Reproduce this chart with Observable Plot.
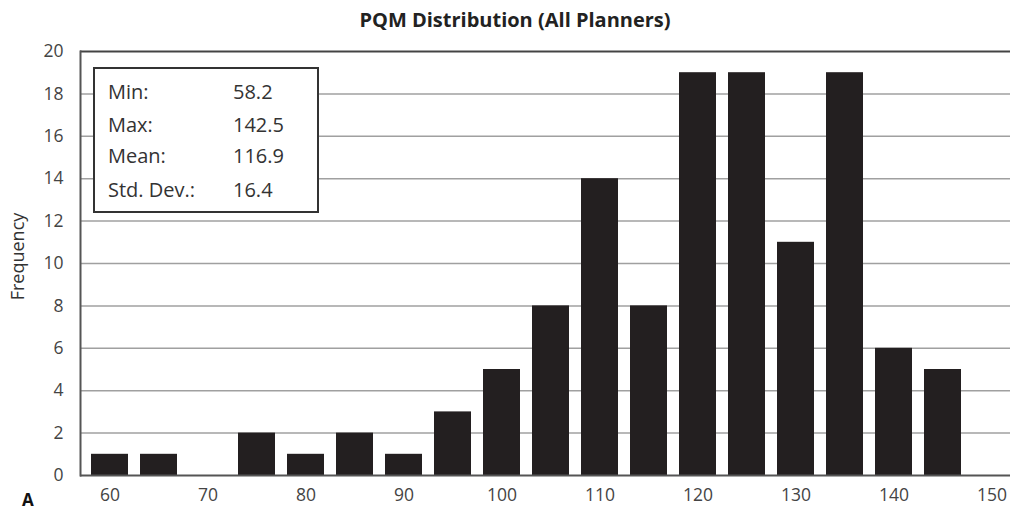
<!DOCTYPE html>
<html><head><meta charset="utf-8">
<script src="https://cdn.jsdelivr.net/npm/d3@7"></script>
<script src="https://cdn.jsdelivr.net/npm/@observablehq/plot@0.6"></script>
<style>
body{margin:0;overflow:hidden;background:#fff;font-family:"Open Sans",sans-serif;}
#wrap{position:relative;width:1030px;height:514px;overflow:hidden;}
#title{height:30px;box-sizing:border-box;padding-top:9px;text-align:center;font-weight:bold;font-size:20px;line-height:21px;color:#222;white-space:nowrap;}
#stats{position:absolute;left:93px;top:67px;width:226px;height:146px;box-sizing:border-box;border:2.5px solid #333;background:#fff;font-size:20px;color:#333;}
#stats .row{position:absolute;left:13px;height:20px;line-height:20px;}
#stats .lab{position:absolute;left:0;white-space:nowrap;}
#stats .val{position:absolute;left:125px;white-space:nowrap;}
#panel{position:absolute;left:22px;top:491px;font-weight:bold;font-size:17px;line-height:17px;color:#111;}
#chart{position:absolute;left:0;top:30px;}
#chart svg text{font-family:"Open Sans",sans-serif !important;}
#chart svg g[aria-label="x-axis tick label"] text, #chart svg g[aria-label="y-axis tick label"] text{font-size:17.5px !important;}
</style></head><body>
<div id="wrap">
  <div id="title"></div>
  <div id="chart"></div>
  <div id="stats"></div>
  <div id="panel"></div>
</div>
<script>
const titleText = "PQM Distribution (All Planners)";
const yLabel = "Frequency";
const panelLabel = "A";
const bins = [60, 65, 70, 75, 80, 85, 90, 95, 100, 105, 110, 115, 120, 125, 130, 135, 140, 145, 150];
const freq = [1, 1, 0, 2, 1, 2, 1, 3, 5, 8, 14, 8, 19, 19, 11, 19, 6, 5, 0];
const xTicks = [60, 70, 80, 90, 100, 110, 120, 130, 140, 150];
const yTicks = [0, 2, 4, 6, 8, 10, 12, 14, 16, 18, 20];
const statLabels = ["Min:", "Max:", "Mean:", "Std. Dev.:"];
const statValues = ["58.2", "142.5", "116.9", "16.4"];

document.getElementById("title").textContent = titleText;
document.getElementById("panel").textContent = panelLabel;

const stats = document.getElementById("stats");
const rowTops = [13, 46, 77, 111];
statLabels.forEach((l, i) => {
  const r = document.createElement("div");
  r.className = "row";
  r.style.top = rowTops[i] + "px";
  const a = document.createElement("span"); a.className = "lab"; a.textContent = l;
  const b = document.createElement("span"); b.className = "val"; b.textContent = statValues[i];
  r.appendChild(a); r.appendChild(b);
  stats.appendChild(r);
});

const data = bins.map((b, i) => ({bin: b, freq: freq[i]}));

const chart = Plot.plot({
  width: 1030,
  height: 484,
  marginTop: 21,
  marginBottom: 39,
  marginLeft: 80,
  marginRight: 10,
  style: {fontFamily: "Open Sans, sans-serif", fontSize: "17px", color: "#444", background: "transparent", overflow: "visible"},
  x: {type: "band", domain: bins, paddingInner: 0.25, paddingOuter: 0.125},
  y: {domain: [0, 20]},
  marks: [
    Plot.ruleY(yTicks.slice(1, -1), {stroke: "#a0a0a0", strokeWidth: 1.5}),
    Plot.ruleY([yTicks[yTicks.length - 1]], {stroke: "#444", strokeWidth: 2.2}),
    Plot.barY(data, {x: "bin", y: "freq", fill: "#231f20"}),
    Plot.ruleY([0], {stroke: "#555", strokeWidth: 2}),
    Plot.frame({anchor: "left", stroke: "#555", strokeWidth: 2}),
    Plot.axisY({ticks: yTicks, tickSize: 0, tickPadding: 17, label: null, fill: "#444"}),
    Plot.axisX({ticks: xTicks, tickSize: 0, tickPadding: 13, label: null, fill: "#444"}),
    Plot.text([yLabel], {frameAnchor: "left", textAnchor: "middle", rotate: -90, dx: -62, dy: -7, fontSize: 18, fill: "#333"})
  ]
});
document.getElementById("chart").appendChild(chart);
</script>
</body></html>
